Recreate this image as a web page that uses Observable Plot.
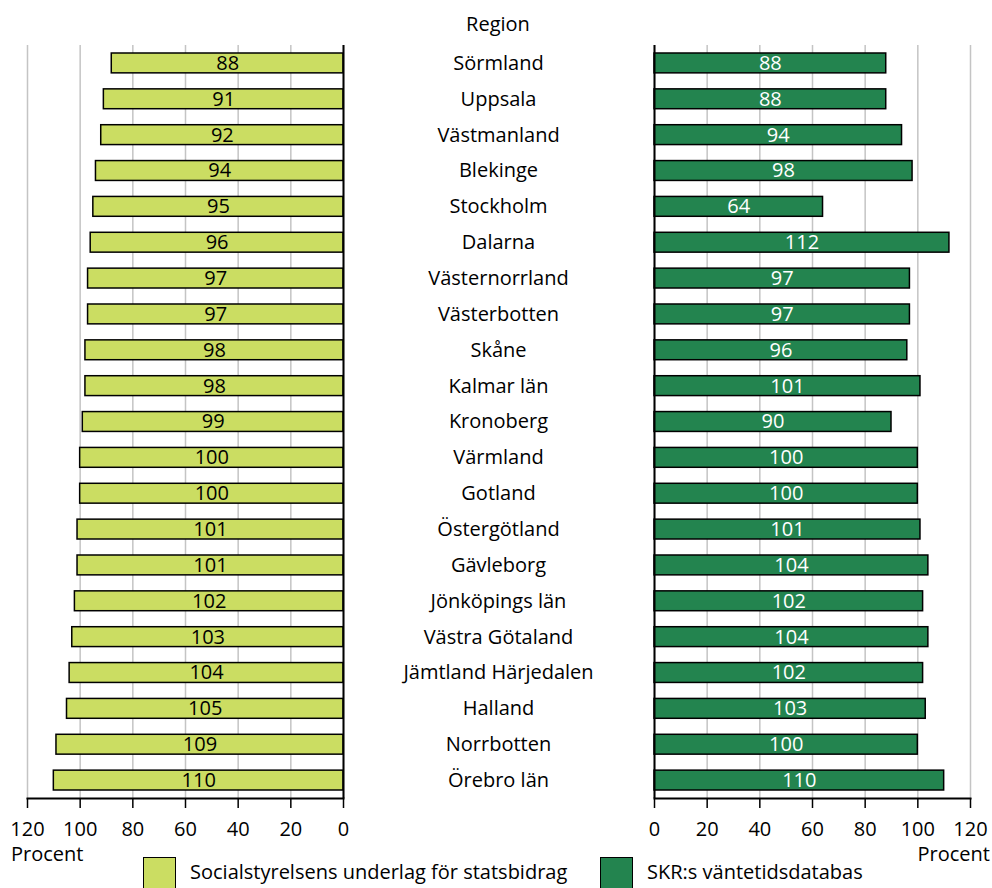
<!DOCTYPE html>
<html><head><meta charset="utf-8">
<script src="https://cdn.jsdelivr.net/npm/d3@7"></script>
<script src="https://cdn.jsdelivr.net/npm/@observablehq/plot@0.6"></script>
<style>
html,body{margin:0;padding:0;background:#fff;overflow:hidden;}
#wrap{position:relative;width:992px;height:888px;font-family:"Open Sans",sans-serif;color:#000;}
#wrap svg{position:absolute;top:0;overflow:visible;}
.lbl{position:absolute;font-size:20px;line-height:1;white-space:nowrap;}
.sq{position:absolute;width:31px;height:31px;border:1.5px solid #000;}
</style></head>
<body><div id="wrap"></div>
<script>
const regions = ["Sörmland","Uppsala","Västmanland","Blekinge","Stockholm","Dalarna","Västernorrland","Västerbotten","Skåne","Kalmar län","Kronoberg","Värmland","Gotland","Östergötland","Gävleborg","Jönköpings län","Västra Götaland","Jämtland Härjedalen","Halland","Norrbotten","Örebro län"];
const socialstyrelsen = [88,91,92,94,95,96,97,97,98,98,99,100,100,101,101,102,103,104,105,109,110];
const skr = [88,88,94,98,64,112,97,97,96,101,90,100,100,101,104,102,104,102,103,100,110];
const tickValues = [0,20,40,60,80,100,120];
const seriesNames = ["Socialstyrelsens underlag för statsbidrag","SKR:s väntetidsdatabas"];
const axisTitle = "Procent";
const regionTitle = "Region";

const FONT = '"Open Sans", sans-serif';
const FS = 20;
const LIGHT = "#cbdd62", DARK = "#23844f";
const leftData = regions.map((r,i)=>({region:r, value:socialstyrelsen[i]}));
const rightData = regions.map((r,i)=>({region:r, value:skr[i]}));

function panel(data, {width, marginLeft, marginRight, reverse, fill, textFill, extra=[]}) {
  return Plot.plot({
    width, height: 840, marginTop: 45, marginBottom: 42, marginLeft, marginRight,
    style: {fontFamily: FONT, fontSize: FS + "px", color: "#000", background: "transparent", overflow: "visible"},
    x: {domain: [0,120], reverse, label: null},
    y: {domain: regions, padding: 0, round: false, axis: null},
    marks: [
      Plot.gridX(tickValues, {stroke: "#c4c4c4", strokeOpacity: 1, strokeWidth: 1.5}),
      Plot.barX(data, {x: "value", y: "region", fill, stroke: "#000", strokeWidth: 1.5, insetTop: 8, insetBottom: 8}),
      Plot.text(data, {x: d => d.value/2, y: "region", text: d => String(d.value), fill: textFill, fontSize: FS}),
      Plot.ruleX([0], {stroke: "#000", strokeWidth: 2}),
      Plot.axisX(tickValues, {anchor: "bottom", tickSize: 10, tickPadding: 13, label: null, stroke: "#000", strokeWidth: 1.5, fontSize: FS}),
      Plot.frame({anchor: "bottom", stroke: "#000", strokeWidth: 2}),
      ...extra
    ]
  });
}

const wrap = document.getElementById("wrap");
const left = panel(leftData, {width: 360, marginLeft: 27, marginRight: 17, reverse: true, fill: LIGHT, textFill: "#000"});
left.style.left = "0px";
wrap.appendChild(left);

const right = panel(rightData, {width: 632, marginLeft: 294, marginRight: 22, reverse: false, fill: DARK, textFill: "#fff",
  extra: [Plot.text(regions, {y: d => d, text: d => d, frameAnchor: "left", dx: -156, textAnchor: "middle", fill: "#000", fontSize: FS})]});
right.style.left = "360px";
wrap.appendChild(right);

function addLabel(text, css) {
  const d = document.createElement("div");
  d.className = "lbl"; d.textContent = text;
  Object.assign(d.style, css);
  wrap.appendChild(d);
}
addLabel(regionTitle, {left: "398px", width: "200px", textAlign: "center", top: "14px"});
addLabel(axisTitle, {left: "11px", top: "844px"});
addLabel(axisTitle, {right: "2px", top: "844px"});

function addSwatch(x, color, text) {
  const s = document.createElement("div");
  s.className = "sq"; s.style.left = x + "px"; s.style.top = "857px"; s.style.background = color;
  wrap.appendChild(s);
  addLabel(text, {left: (x + 47) + "px", top: "862px"});
}
addSwatch(143, LIGHT, seriesNames[0]);
addSwatch(600, DARK, seriesNames[1]);
</script></body></html>
